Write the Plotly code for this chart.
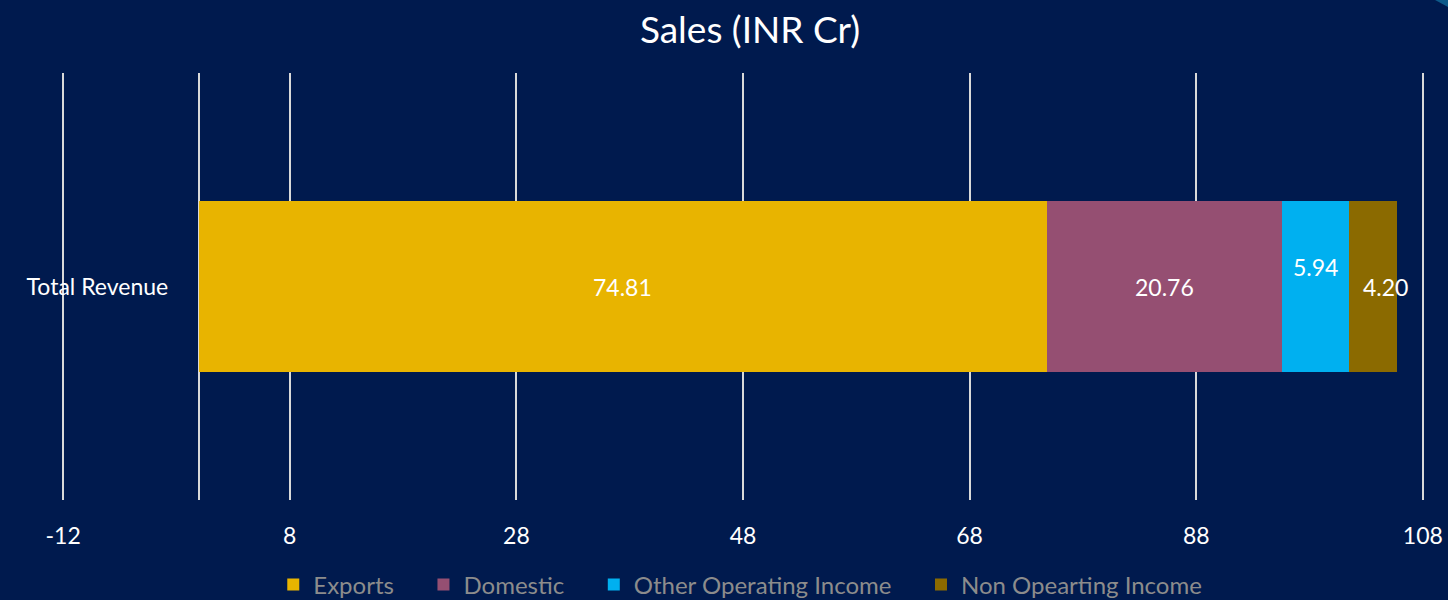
import plotly.graph_objects as go

category = ["Total Revenue"]
series_names = ["Exports", "Domestic", "Other Operating Income", "Non Opearting Income"]
series_values = [74.81, 20.76, 5.94, 4.20]
series_colors = ["#E8B400", "#954F72", "#00B0F0", "#8B6A00"]
x_ticks = [-12, 8, 28, 48, 68, 88, 108]

bg = "#001A4E"

fig = go.Figure()

for i, (name, val, color) in enumerate(zip(series_names, series_values, series_colors)):
    # pad legend entries so they spread out like the original
    pad = "\u00a0" * 4 if i < len(series_names) - 1 else ""
    fig.add_trace(go.Bar(
        y=category,
        x=[val],
        name=name + pad,
        orientation="h",
        marker=dict(color=color, line=dict(width=0)),
        hovertemplate=name + ": %{x}<extra></extra>",
    ))

# data labels, centred in each segment (the small one sits a bit higher)
start = 0
for i, val in enumerate(series_values):
    mid = start + val / 2
    yshift = 20 if series_names[i] == "Other Operating Income" else 0
    xshift = 12 if i == len(series_values) - 1 else 0
    fig.add_annotation(
        x=mid, y=category[0], text=f"{val:.2f}", showarrow=False,
        font=dict(color="white", size=23), yshift=yshift, xshift=xshift,
    )
    start += val

fig.update_layout(
    width=1448,
    height=600,
    barmode="stack",
    bargap=0.6,
    paper_bgcolor=bg,
    plot_bgcolor=bg,
    font=dict(family="Lato, Open Sans, sans-serif", color="white"),
    title=dict(text="Sales (INR Cr)", x=0.518, xanchor="center", yref="container",
               y=0.95, yanchor="middle", font=dict(size=37, color="white")),
    margin=dict(l=62, r=24, t=73, b=100, autoexpand=False),
    showlegend=True,
    legend=dict(orientation="h", x=0.498, xanchor="center", yref="container", y=0.025,
                yanchor="middle", font=dict(size=24, color="#8C8C8C"), traceorder="normal",
                itemwidth=30),
    xaxis=dict(
        range=[-12.1, 108.1], tickvals=x_ticks, ticktext=[str(t) for t in x_ticks],
        showgrid=True, gridcolor="#D9D9D9", gridwidth=1.5,
        zeroline=True, zerolinecolor="#D9D9D9", zerolinewidth=1.5,
        tickfont=dict(size=23, color="white"), ticks="", ticklabelstandoff=20,
        showline=False, automargin=False,
    ),
    yaxis=dict(
        anchor="free", position=0.1, showgrid=False, zeroline=False, showline=False,
        ticks="", ticklabelstandoff=30, tickfont=dict(size=23, color="white"),
        automargin=False,
    ),
    shapes=[dict(type="path", xref="paper", yref="paper",
                 path="M 1.0081,1.1710 L 1.0191,1.1710 L 1.0191,1.1522 Z",
                 fillcolor="#0E5A8A", line=dict(width=0), layer="above")],
)

fig.write_html("out.html", config={"displayModeBar": False},
               post_script="document.body.style.margin='0';")
